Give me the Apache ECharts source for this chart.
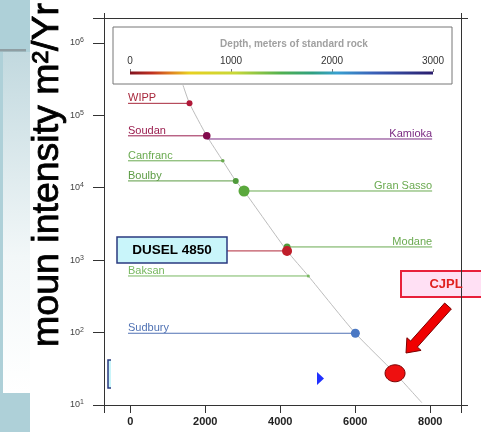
<!DOCTYPE html>
<html>
<head>
<meta charset="utf-8">
<style>
  html, body { margin: 0; padding: 0; background: #ffffff; }
  #chart { width: 481px; height: 432px; }
</style>
<script src="https://cdn.jsdelivr.net/npm/echarts@6/dist/echarts.min.js"></script>
</head>
<body>
<div id="chart"></div>
<script>
// Underground laboratories: depth (m w.e.) and muon flux (per m^2 per year)
const labNames = ['WIPP', 'Soudan', 'Kamioka', 'Canfranc', 'Boulby', 'Gran Sasso',
                  'Modane', 'DUSEL 4850', 'Baksan', 'Sudbury', 'CJPL'];
const labDepth = [1580, 2040, 2050, 2467, 2813, 3034, 4181, 4181, 4749, 6003, 7061];
const labFlux  = [1.46e5, 5.2e4, 4.7e4, 2.35e4, 1.24e4, 9.0e3, 1.52e3, 1.34e3, 604, 97.8, 27.4];

// Flux-versus-depth curve
const curveDepth = [1407, 1580, 2040, 2467, 2813, 3034, 4181, 4749, 6003, 7061, 7773];
const curveFlux  = [2.6e5, 1.46e5, 5.2e4, 2.35e4, 1.24e4, 9.0e3, 1.34e3, 604, 97.8, 27.4, 10.8];

// Axis ticks
const depthTicks = [0, 2000, 4000, 6000, 8000];
const fluxTicks = [10, 100, 1e3, 1e4, 1e5, 1e6];
const colorbarTicks = [0, 1000, 2000, 3000];

// Axis extents and leader-line ends (in depth units)
const X_MIN = -700, X_MAX = 8820;
const Y_MIN = 10, Y_MAX = 2.2e6;
const LEADER_LEFT = -60, LEADER_RIGHT = 8050;

// Per-lab drawing style
const labStyle = {
  'WIPP':       { color: '#a8283c', side: 'left',  r: 3,   dot: '#b01838' },
  'Soudan':     { color: '#9a1d4e', side: 'left',  r: 3.8, dot: '#820a4c' },
  'Kamioka':    { color: '#7a2a82', side: 'right', r: 0 },
  'Canfranc':   { color: '#6aaa50', side: 'left',  r: 1.8 },
  'Boulby':     { color: '#5c9c44', side: 'left',  r: 3,   dot: '#4f9a3a' },
  'Gran Sasso': { color: '#6aaa50', side: 'right', r: 5.5, dot: '#5aa83c' },
  'Modane':     { color: '#6aaa50', side: 'right', r: 3.5, dot: '#4f9a3a' },
  'DUSEL 4850': { color: '#b0283a', side: 'left',  r: 5,   dot: '#c01e2a', noText: true },
  'Baksan':     { color: '#78b860', side: 'left',  r: 1.5 },
  'Sudbury':    { color: '#5072b4', side: 'left',  r: 4.5, dot: '#4a78c4' },
  'CJPL':       { color: '#ee1010', side: 'none',  rx: 10, ry: 8.5, stroke: '#7a0000' }
};

const FONT = '"Liberation Sans", Arial, sans-serif';

function renderLab(params, api) {
  const name = labNames[params.dataIndex];
  const st = labStyle[name];
  const p = api.coord([api.value(0), api.value(1)]);
  const children = [];
  if (st.side === 'left' || st.side === 'right') {
    const endX = api.coord([st.side === 'left' ? LEADER_LEFT : LEADER_RIGHT, api.value(1)])[0];
    children.push({
      type: 'line', z2: 0,
      shape: { x1: endX, y1: p[1], x2: p[0], y2: p[1] },
      style: { stroke: st.color, lineWidth: 1 }
    });
    if (!st.noText) {
      children.push({
        type: 'text', z2: 1, x: endX, y: p[1] + 0.5,
        style: {
          text: name, fill: st.color, font: '11px ' + FONT,
          align: st.side === 'left' ? 'left' : 'right', verticalAlign: 'bottom'
        }
      });
    }
  }
  if (st.r) {
    children.push({
      type: 'circle', z2: 5,
      shape: { cx: p[0], cy: p[1], r: st.r },
      style: { fill: st.dot || st.color }
    });
  }
  if (st.rx) {
    children.push({
      type: 'ellipse', z2: 5,
      shape: { cx: p[0], cy: p[1], rx: st.rx, ry: st.ry },
      style: { fill: st.color, stroke: st.stroke, lineWidth: 1 }
    });
  }
  return { type: 'group', children: children };
}

// Thick red arrow pointing at the CJPL marker
function arrowPoints(tail, tip, shaftHalf, headHalf, headLen) {
  const dx = tip[0] - tail[0], dy = tip[1] - tail[1];
  const len = Math.sqrt(dx * dx + dy * dy);
  const ux = dx / len, uy = dy / len;
  const nx = -uy, ny = ux;
  const bx = tip[0] - ux * headLen, by = tip[1] - uy * headLen;
  return [
    [tail[0] + nx * shaftHalf, tail[1] + ny * shaftHalf],
    [bx + nx * shaftHalf, by + ny * shaftHalf],
    [bx + nx * headHalf, by + ny * headHalf],
    tip,
    [bx - nx * headHalf, by - ny * headHalf],
    [bx - nx * shaftHalf, by - ny * shaftHalf],
    [tail[0] - nx * shaftHalf, tail[1] - ny * shaftHalf]
  ];
}

const chart = echarts.init(document.getElementById('chart'), null, { renderer: 'canvas' });

const axisLineStyle = { color: '#333', width: 1 };
const plainNumber = function (v) { return String(v); };

const option = {
  animation: false,
  backgroundColor: '#ffffff',
  grid: [
    { left: 104, right: 20, top: 18, bottom: 27 },
    { left: 130, width: 303, top: 72, height: 2 }
  ],
  xAxis: [
    {
      type: 'value', gridIndex: 0, position: 'bottom', min: X_MIN, max: X_MAX,
      axisLine: { show: true, onZero: false, lineStyle: axisLineStyle },
      axisTick: { show: true, inside: false, length: 8, lineStyle: axisLineStyle,
                  customValues: [X_MIN].concat(depthTicks, [X_MAX]) },
      axisLabel: { customValues: depthTicks, margin: 11, color: '#222', fontSize: 11,
                   fontWeight: 'bold', fontFamily: FONT, formatter: plainNumber },
      splitLine: { show: false }
    },
    {
      type: 'value', gridIndex: 0, position: 'top', min: X_MIN, max: X_MAX,
      axisLine: { show: true, onZero: false, lineStyle: axisLineStyle },
      axisTick: { show: true, inside: false, length: 5, lineStyle: axisLineStyle,
                  customValues: [X_MIN, X_MAX] },
      axisLabel: { show: false },
      splitLine: { show: false }
    },
    {
      type: 'value', gridIndex: 1, position: 'top', min: 0, max: 3000, interval: 1000,
      axisLine: { show: false, onZero: false },
      axisTick: { show: true, inside: false, length: 3, lineStyle: { color: '#777', width: 1 },
                  customValues: colorbarTicks },
      axisLabel: { customValues: colorbarTicks, margin: 6, color: '#333', fontSize: 10,
                   fontFamily: FONT, formatter: plainNumber },
      splitLine: { show: false }
    }
  ],
  yAxis: [
    {
      type: 'log', logBase: 10, gridIndex: 0, position: 'left', min: Y_MIN, max: Y_MAX,
      axisLine: { show: true, onZero: false, lineStyle: axisLineStyle },
      axisTick: { show: true, inside: false, length: 11, lineStyle: axisLineStyle,
                  customValues: fluxTicks.concat([Y_MAX]) },
      axisLabel: {
        customValues: fluxTicks, margin: 20,
        formatter: function (v) { return '{b|10}{s|' + Math.round(Math.log10(v)) + '}'; },
        rich: {
          b: { fontSize: 9, color: '#444', fontFamily: FONT },
          s: { fontSize: 7, color: '#444', fontFamily: FONT, padding: [0, 0, 5, 0] }
        }
      },
      splitLine: { show: false }, minorSplitLine: { show: false }
    },
    {
      type: 'log', logBase: 10, gridIndex: 0, position: 'right', min: Y_MIN, max: Y_MAX,
      axisLine: { show: true, onZero: false, lineStyle: axisLineStyle },
      axisTick: { show: true, inside: false, length: 7, lineStyle: axisLineStyle,
                  customValues: [Y_MIN, Y_MAX] },
      axisLabel: { show: false },
      splitLine: { show: false }
    },
    {
      type: 'value', gridIndex: 1, min: -1, max: 1, show: false
    }
  ],
  series: [
    {
      name: 'curve', type: 'line', xAxisIndex: 0, yAxisIndex: 0, z: 1,
      data: curveDepth.map(function (d, i) { return [d, curveFlux[i]]; }),
      showSymbol: false, symbol: 'none', smooth: 0.2,
      lineStyle: { color: '#bdbdbd', width: 1 }
    },
    {
      name: 'labs', type: 'custom', coordinateSystem: 'cartesian2d',
      xAxisIndex: 0, yAxisIndex: 0, z: 3,
      data: labDepth.map(function (d, i) { return [d, labFlux[i]]; }),
      renderItem: renderLab
    },
    {
      name: 'depth scale', type: 'line', xAxisIndex: 2, yAxisIndex: 2, z: 3,
      data: [[colorbarTicks[0], 0], [colorbarTicks[colorbarTicks.length - 1], 0]],
      showSymbol: false, symbol: 'none',
      lineStyle: {
        width: 3,
        color: {
          type: 'linear', x: 0, y: 0, x2: 1, y2: 0,
          colorStops: [
            { offset: 0.00, color: '#7a1020' },
            { offset: 0.08, color: '#c03020' },
            { offset: 0.14, color: '#e08020' },
            { offset: 0.20, color: '#e8d020' },
            { offset: 0.35, color: '#c8d838' },
            { offset: 0.50, color: '#50b050' },
            { offset: 0.60, color: '#30a080' },
            { offset: 0.68, color: '#38a0d0' },
            { offset: 0.80, color: '#3a60b8' },
            { offset: 1.00, color: '#2a1a6a' }
          ]
        }
      }
    }
  ],
  graphic: [
    // slide background on the left
    { type: 'rect', z: -10, shape: { x: 0, y: 0, width: 30, height: 432 }, style: { fill: '#aed0d8' } },
    { type: 'rect', z: -9, shape: { x: 3, y: 52, width: 27, height: 341 },
      style: { fill: { type: 'linear', x: 0, y: 0, x2: 0, y2: 1,
        colorStops: [{ offset: 0, color: '#c2d9df' }, { offset: 0.6, color: '#f2f7f8' }, { offset: 1, color: '#ffffff' }] } } },
    { type: 'rect', z: -9, shape: { x: 0, y: 49, width: 26, height: 2.5 }, style: { fill: '#8f9ea3' } },
    {
      type: 'text', z: 5, x: 48, y: 175, rotation: Math.PI / 2,
      style: { text: 'moun intensity m²/Yr', fill: '#000', stroke: '#000', lineWidth: 0.8,
               font: '37.5px ' + FONT, align: 'center', verticalAlign: 'middle' }
    },
    // depth scale frame and title
    { type: 'rect', z: -1, shape: { x: 113, y: 27, width: 339, height: 57 },
      style: { fill: '#ffffff', stroke: '#777', lineWidth: 1 } },
    { type: 'text', z: 5, x: 294, y: 44,
      style: { text: 'Depth, meters of standard rock', fill: '#a0a0a0',
               font: 'bold 10px ' + FONT, align: 'center', verticalAlign: 'middle' } },
    // DUSEL callout
    { type: 'rect', z: 10, shape: { x: 117, y: 237, width: 110, height: 26 },
      style: { fill: '#c9f5fa', stroke: '#2a3a80', lineWidth: 1.5 } },
    { type: 'text', z: 11, x: 172, y: 250.5,
      style: { text: 'DUSEL 4850', fill: '#000', font: 'bold 13.5px ' + FONT,
               align: 'center', verticalAlign: 'middle' } },
    // CJPL callout
    { type: 'rect', z: -1, shape: { x: 401, y: 271, width: 82, height: 26 },
      style: { fill: '#ffe0f4', stroke: '#e8203a', lineWidth: 2 } },
    { type: 'text', z: 5, x: 446, y: 284,
      style: { text: 'CJPL', fill: '#e02020', font: 'bold 13px ' + FONT,
               align: 'center', verticalAlign: 'middle' } },
    { type: 'polygon', z: 10,
      shape: { points: arrowPoints([448, 306], [406, 353], 4.5, 9.5, 12) },
      style: { fill: '#f00000', stroke: '#7a0000', lineWidth: 1 } },
    // small leftover marks
    { type: 'polygon', z: 5, shape: { points: [[317, 372], [324, 378.5], [317, 385]] },
      style: { fill: '#2030ff' } },
    { type: 'rect', z: 5, shape: { x: 108, y: 360, width: 3, height: 28 }, style: { fill: '#c9f5fa' } },
    { type: 'polyline', z: 6, shape: { points: [[111, 360], [108, 360], [108, 388], [111, 388]] },
      style: { stroke: '#2a3a80', lineWidth: 1.5, fill: null } }
  ]
};

chart.setOption(option);
</script>
</body>
</html>
